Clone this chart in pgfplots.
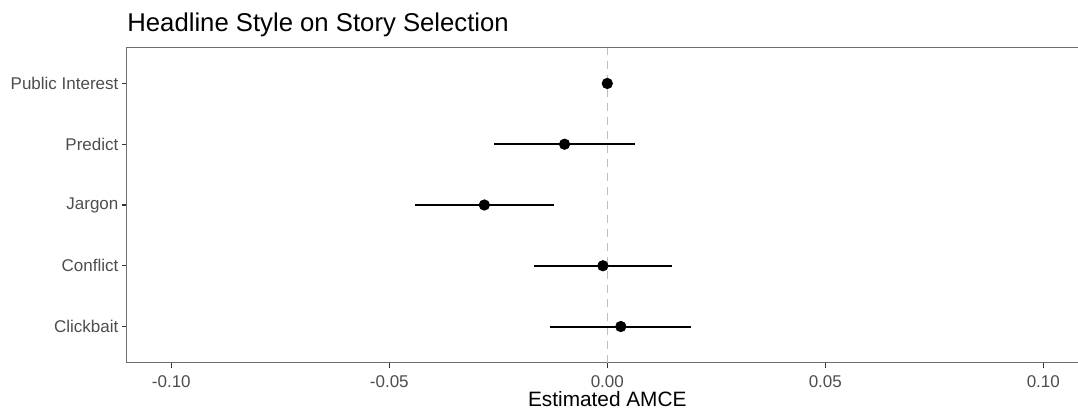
\documentclass[border=0pt]{standalone}
\usepackage{fontspec}
\setmainfont{Liberation Sans}
\usepackage{pgfplots}
\pgfplotsset{compat=1.18}
\definecolor{framegray}{HTML}{6E6E6E}
\definecolor{tickgray}{HTML}{333333}
\definecolor{labgray}{HTML}{4D4D4D}
\definecolor{zerogray}{HTML}{BEBEBE}
\begin{document}
\begin{tikzpicture}
\useasboundingbox (-63.5pt,-23.5pt) rectangle (475.5pt,181.5pt);
\begin{axis}[
  at={(0,0)}, anchor=south west,
  scale only axis, width=475.5pt, height=158pt,
  xmin=-0.11016, xmax=0.10796, ymin=0.4, ymax=5.6,
  axis lines*=left,
  axis line style={framegray, line width=0.5pt, -},
  tick align=outside, major tick length=2.6pt,
  every tick/.style={tickgray, line width=0.6pt},
  xtick={-0.1,-0.05,0,0.05,0.1},
  xticklabels={{-0.10},{-0.05},{0.00},{0.05},{0.10}},
  ytick={1,2,3,4,5},
  yticklabels={Clickbait,Conflict,Jargon,Predict,Public Interest},
  ticklabel style={font=\fontsize{8.5}{10}\selectfont, text=labgray},
  yticklabel style={inner xsep=0pt, xshift=-1.5pt},
  xticklabel style={inner ysep=0pt, yshift=-3.5pt},
  clip=false,
]
\addplot[zerogray, line width=0.6pt, dash pattern=on 4pt off 3pt] coordinates {(0,0.4) (0,5.6)};
\addplot[black, only marks, mark=*, mark size=2.6pt,
  error bars/.cd, x dir=both, x explicit, error mark=none,
  error bar style={black, line width=1pt}]
  coordinates {
    (0.0000,5) +- (0.0000,0)
    (-0.0098,4) +- (0.0162,0)
    (-0.0282,3) +- (0.0159,0)
    (-0.0010,2) +- (0.0159,0)
    (0.0031,1) +- (0.0162,0)
  };
\draw[framegray, line width=0.5pt] (rel axis cs:0,1) -- (rel axis cs:1,1);
\node[anchor=base west, inner sep=0pt, yshift=7.65pt, font=\fontsize{12.85}{15}\selectfont] at (rel axis cs:0,1) {Headline Style on Story Selection};
\node[anchor=base, inner sep=0pt, yshift=-21.8pt, font=\fontsize{10.4}{12}\selectfont] at (axis cs:0,0.4) {Estimated AMCE};
\end{axis}
\end{tikzpicture}
\end{document}
